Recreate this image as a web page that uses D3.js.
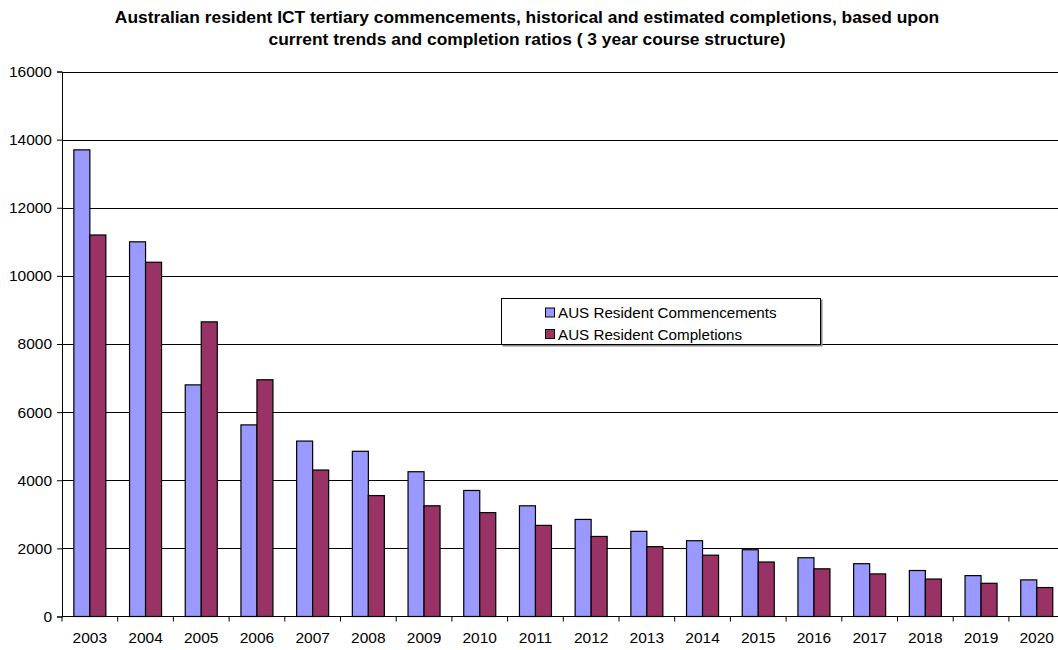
<!DOCTYPE html>
<html>
<head>
<meta charset="utf-8">
<script src="https://d3js.org/d3.v7.min.js"></script>
<style>
  html, body { margin: 0; padding: 0; background: #fff; }
  svg { display: block; font-family: "Liberation Sans", Arial, sans-serif; }
</style>
</head>
<body>
<svg id="chart" width="1058" height="650"></svg>
<script>
// Years on the category axis
const years = ["2003","2004","2005","2006","2007","2008","2009","2010","2011",
               "2012","2013","2014","2015","2016","2017","2018","2019","2020"];

// Commencements and completions per year
const commencements = [13700, 11000, 6800, 5625, 5150, 4850, 4250, 3700, 3250,
                       2850, 2500, 2225, 1960, 1725, 1550, 1350, 1200, 1075];
const completions   = [11200, 10400, 8650, 6950, 4300, 3550, 3250, 3050, 2675,
                       2350, 2050, 1800, 1600, 1400, 1250, 1100, 975, 850];

const seriesNames = ["AUS Resident Commencements", "AUS Resident Completions"];
const seriesColors = ["#9999FF", "#993366"];

// Value-axis ticks
const yTicks = [0, 2000, 4000, 6000, 8000, 10000, 12000, 14000, 16000];

const titleLines = [
  "Australian resident ICT tertiary commencements, historical and estimated completions, based upon",
  "current trends and completion ratios ( 3 year course structure)"
];

const svg = d3.select("#chart");
const plot = { left: 62, right: 1064.6, top: 71.5, bottom: 616.5 };

const x0 = d3.scaleBand().domain(years).range([plot.left, plot.right]).padding(0);
const x1 = d3.scaleBand().domain(seriesNames).range([0, x0.bandwidth()])
  .paddingInner(0).paddingOuter(0.74);
const y = d3.scaleLinear().domain([0, 16000]).range([plot.bottom, plot.top]);

// Title
svg.append("g").selectAll("text").data(titleLines).join("text")
  .attr("x", 527).attr("y", (d, i) => 23 + i * 22)
  .attr("text-anchor", "middle")
  .attr("font-size", "17.4px").attr("font-weight", "bold")
  .attr("fill", "#000")
  .text(d => d);

// Horizontal gridlines
svg.append("g").selectAll("line").data(yTicks.filter(v => v > 0)).join("line")
  .attr("x1", plot.left).attr("x2", plot.right)
  .attr("y1", d => Math.round(y(d)) + 0.5).attr("y2", d => Math.round(y(d)) + 0.5)
  .attr("stroke", "#000").attr("stroke-width", 1);

// Bars
const rows = years.map((yr, i) => ({ year: yr, values: [commencements[i], completions[i]] }));
const groups = svg.append("g").selectAll("g").data(rows).join("g")
  .attr("transform", d => `translate(${x0(d.year)},0)`);
groups.selectAll("rect")
  .data(d => d.values.map((v, k) => ({ name: seriesNames[k], value: v, k })))
  .join("rect")
  .attr("x", d => x1(d.name))
  .attr("y", d => y(d.value))
  .attr("width", x1.bandwidth())
  .attr("height", d => y(0) - y(d.value))
  .attr("fill", d => seriesColors[d.k])
  .attr("stroke", "#000").attr("stroke-width", 1.2);

// Y axis
const yAxis = svg.append("g")
  .attr("transform", `translate(${plot.left},0)`)
  .call(d3.axisLeft(y).tickValues(yTicks).tickSize(5).tickPadding(5).tickFormat(d3.format("d")));
yAxis.select(".domain").attr("stroke", "#000");
yAxis.selectAll(".tick line").attr("stroke", "#000");
yAxis.selectAll("text").attr("font-size", "15.5px").attr("fill", "#000")
  .attr("font-family", "Liberation Sans, Arial, sans-serif");

// X axis with ticks between categories
const xAxisG = svg.append("g").attr("transform", `translate(0,${plot.bottom})`);
xAxisG.append("line")
  .attr("x1", plot.left).attr("x2", plot.right).attr("y1", 0).attr("y2", 0)
  .attr("stroke", "#000");
xAxisG.selectAll("line.tk").data(years.concat(["end"])).join("line")
  .attr("class", "tk")
  .attr("x1", (d, i) => plot.left + i * x0.step()).attr("x2", (d, i) => plot.left + i * x0.step())
  .attr("y1", 0).attr("y2", 5).attr("stroke", "#000");
xAxisG.selectAll("text").data(years).join("text")
  .attr("x", d => x0(d) + x0.bandwidth() / 2)
  .attr("y", 26)
  .attr("text-anchor", "middle")
  .attr("font-size", "15.5px").attr("fill", "#000")
  .text(d => d);

// Legend
const legend = svg.append("g").attr("transform", "translate(501,298)");
legend.append("rect").attr("x", 1.5).attr("y", 1.5).attr("width", 320).attr("height", 47)
  .attr("fill", "#888");
legend.append("rect").attr("x", 0.5).attr("y", 0.5).attr("width", 319).attr("height", 46)
  .attr("fill", "#fff").attr("stroke", "#000");
const items = legend.selectAll("g.item").data(seriesNames).join("g")
  .attr("class", "item")
  .attr("transform", (d, i) => `translate(44,${14.5 + i * 21.5})`);
items.append("rect").attr("x", 0.5).attr("y", -4.5).attr("width", 9).attr("height", 9)
  .attr("fill", (d, i) => seriesColors[i]).attr("stroke", "#000");
items.append("text").attr("x", 13).attr("y", 5.5)
  .attr("font-size", "15.2px").attr("fill", "#000")
  .text(d => d);
</script>
</body>
</html>
